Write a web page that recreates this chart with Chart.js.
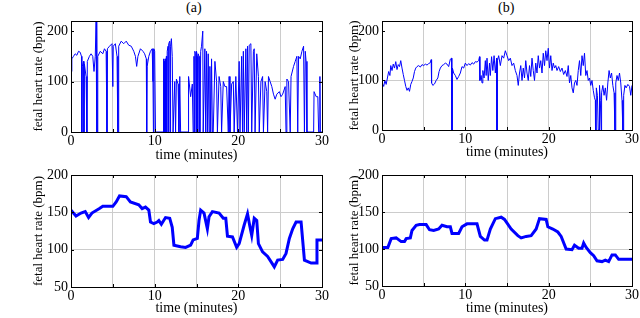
<!DOCTYPE html>
<html>
<head>
<meta charset="utf-8">
<script src="https://cdn.jsdelivr.net/npm/chart.js@4.4.0/dist/chart.umd.min.js"></script>
<style>
  body { margin: 0; background: #fff; }
  #wrap { position: relative; width: 640px; height: 318px; overflow: hidden; }
  canvas { position: absolute; }
  .lbl { position: absolute; font: 14px "Liberation Serif", "Times New Roman", serif; color: #000; }
</style>
</head>
<body>
<div id="wrap">
  <div class="lbl" style="left:186px; top:0px;">(a)</div>
  <div class="lbl" style="left:498px; top:0px;">(b)</div>
  <canvas id="ca" width="299" height="164" style="left:31px; top:0px;"></canvas>
  <canvas id="cb" width="293" height="161" style="left:347px; top:0px;"></canvas>
  <canvas id="cc" width="299" height="157" style="left:31px; top:160px;"></canvas>
  <canvas id="cd" width="293" height="157" style="left:347px; top:160px;"></canvas>
</div>
<script>
// raw fetal heart rate, recording (a)
const timeA = [0, 0.1, 0.3, 0.5, 0.7, 0.9, 1.1, 1.25, 1.3, 1.35, 1.5, 1.55, 1.6, 1.8, 1.9, 1.95, 2.2, 2.4, 2.6, 2.75, 2.9, 3.0, 3.05, 3.1, 3.15, 3.2, 3.5, 3.8, 4.0, 4.2, 4.3, 4.35, 4.6, 4.9, 5.0, 5.05, 5.3, 5.5, 5.6, 5.65, 5.7, 6.0, 6.3, 6.6, 6.9, 7.2, 7.5, 7.7, 7.85, 8.0, 8.3, 8.6, 8.8, 9.0, 9.05, 9.1, 9.3, 9.5, 9.7, 9.8, 9.85, 9.9, 10.0, 10.1, 11.0, 11.05, 11.1, 11.15, 11.2, 11.25, 11.3, 11.4, 11.45, 11.5, 11.6, 11.65, 11.7, 11.8, 11.85, 11.9, 12.0, 12.1, 12.2, 12.4, 12.5, 12.6, 12.8, 12.9, 13.0, 13.1, 14.0, 14.05, 14.3, 14.5, 14.6, 14.7, 14.75, 14.8, 14.9, 14.95, 15.0, 15.1, 15.15, 15.2, 15.3, 15.4, 15.5, 15.6, 15.75, 15.8, 16.0, 16.1, 16.2, 16.3, 16.4, 16.5, 16.6, 16.7, 16.8, 16.9, 17.0, 17.2, 17.4, 17.5, 17.7, 17.9, 18.0, 18.2, 18.4, 18.6, 18.8, 18.9, 19.0, 19.2, 19.4, 19.5, 19.7, 19.9, 20.1, 20.2, 20.4, 20.5, 20.6, 20.7, 20.9, 21.0, 21.1, 21.2, 21.3, 21.5, 21.6, 21.8, 21.9, 22.0, 22.2, 22.4, 22.5, 22.7, 22.9, 23.0, 23.2, 23.4, 23.5, 23.6, 23.8, 24.0, 24.2, 24.4, 24.6, 24.9, 25.1, 25.3, 25.6, 25.7, 25.8, 26.0, 26.2, 26.3, 26.6, 26.8, 27.0, 27.1, 27.2, 27.4, 27.6, 27.8, 27.9, 28.0, 28.1, 28.2, 29.0, 29.05, 29.3, 29.5, 29.6, 29.7, 29.75, 29.8, 30];
const rateA = [120, 145, 150, 155, 152, 160, 158, 150, 0, 130, 140, 0, 135, 110, 0, 140, 150, 155, 150, 120, 150, 220, 0, 220, 0, 150, 160, 155, 165, 160, 0, 165, 170, 175, 90, 170, 175, 150, 0, 0, 170, 180, 175, 180, 172, 170, 160, 150, 130, 150, 165, 160, 155, 145, 0, 130, 150, 160, 165, 100, 0, 165, 160, 0, 0, 145, 0, 140, 0, 145, 0, 150, 0, 160, 170, 0, 175, 180, 0, 170, 185, 150, 0, 100, 0, 105, 95, 0, 110, 0, 0, 110, 70, 95, 0, 150, 0, 160, 155, 0, 160, 150, 0, 155, 150, 0, 160, 170, 200, 0, 165, 0, 160, 0, 155, 0, 130, 0, 145, 0, 0, 140, 100, 0, 110, 90, 0, 100, 90, 90, 0, 110, 0, 95, 100, 0, 110, 0, 140, 0, 150, 0, 160, 0, 165, 0, 170, 0, 172, 175, 0, 160, 165, 0, 155, 110, 0, 100, 110, 0, 100, 80, 0, 110, 100, 90, 75, 65, 75, 80, 70, 75, 90, 0, 105, 100, 0, 110, 130, 140, 150, 0, 150, 145, 160, 170, 0, 160, 140, 0, 0, 80, 70, 70, 0, 0, 110, 0, 0];

// raw fetal heart rate, recording (b)
const timeB = [0, 0.2, 0.35, 0.5, 0.65, 0.8, 0.95, 1.05, 1.2, 1.35, 1.5, 1.65, 1.8, 1.95, 2.1, 2.25, 2.4, 2.55, 2.7, 2.85, 3.0, 3.15, 3.3, 3.45, 3.6, 3.75, 3.9, 4.05, 4.2, 4.4, 4.6, 4.8, 5.0, 5.2, 5.4, 5.6, 5.8, 5.9, 5.95, 6.1, 6.3, 6.5, 6.7, 6.85, 7.0, 7.2, 7.4, 7.6, 7.8, 8.0, 8.2, 8.35, 8.38, 8.42, 8.45, 8.6, 8.8, 9.0, 9.2, 9.4, 9.6, 9.8, 10.0, 10.2, 10.4, 10.6, 10.8, 11.0, 11.2, 11.4, 11.6, 11.7, 11.75, 11.9, 12.0, 12.1, 12.25, 12.4, 12.5, 12.6, 12.75, 12.9, 13.0, 13.15, 13.3, 13.45, 13.6, 13.75, 13.78, 13.82, 13.85, 14.0, 14.2, 14.4, 14.6, 14.8, 15.0, 15.2, 15.4, 15.6, 15.8, 16.0, 16.2, 16.35, 16.5, 16.65, 16.8, 16.95, 17.1, 17.25, 17.4, 17.55, 17.7, 17.85, 18.0, 18.15, 18.3, 18.45, 18.6, 18.75, 18.9, 19.05, 19.2, 19.35, 19.5, 19.65, 19.8, 19.95, 20.1, 20.25, 20.4, 20.55, 20.7, 20.85, 21.0, 21.2, 21.4, 21.6, 21.8, 22.0, 22.2, 22.35, 22.5, 22.65, 22.8, 22.95, 23.1, 23.25, 23.4, 23.55, 23.7, 23.85, 24.0, 24.15, 24.3, 24.45, 24.6, 24.75, 24.9, 25.05, 25.2, 25.35, 25.5, 25.6, 25.62, 25.7, 25.72, 25.85, 25.95, 26.05, 26.1, 26.2, 26.3, 26.35, 26.5, 26.65, 26.8, 26.95, 27.1, 27.25, 27.4, 27.55, 27.7, 27.85, 27.95, 28.0, 28.05, 28.2, 28.35, 28.5, 28.65, 28.8, 28.9, 28.95, 29.0, 29.15, 29.3, 29.5, 29.7, 29.85, 30];
const rateB = [95, 88, 100, 92, 105, 118, 110, 130, 120, 133, 125, 138, 122, 132, 128, 140, 125, 112, 100, 88, 80, 85, 78, 92, 98, 105, 118, 125, 128, 130, 127, 132, 130, 133, 131, 134, 136, 142, 95, 90, 93, 100, 105, 118, 125, 130, 132, 135, 133, 128, 143, 145, 0, 0, 125, 115, 110, 102, 108, 115, 128, 125, 135, 130, 134, 131, 136, 133, 138, 137, 140, 148, 100, 110, 95, 120, 105, 140, 110, 145, 100, 135, 110, 148, 120, 150, 115, 145, 0, 0, 140, 150, 130, 150, 145, 160, 150, 140, 145, 130, 135, 120, 110, 90, 115, 130, 100, 125, 105, 140, 115, 100, 130, 108, 145, 120, 100, 135, 115, 150, 125, 140, 115, 155, 130, 160, 140, 165, 125, 150, 120, 135, 125, 130, 120, 128, 118, 125, 112, 120, 108, 130, 95, 110, 85, 75, 95, 100, 90, 120, 140, 110, 150, 130, 155, 110, 120, 100, 105, 90, 100, 80, 65, 60, 0, 0, 85, 70, 0, 0, 90, 60, 0, 75, 90, 70, 85, 60, 95, 120, 105, 115, 90, 75, 0, 0, 95, 110, 100, 115, 95, 60, 0, 0, 70, 90, 85, 92, 88, 70, 90];

// processed fetal heart rate, recording (a)
const timeC = [0, 0.6, 1.2, 1.7, 2.1, 2.5, 3.4, 3.8, 5.0, 5.4, 5.8, 6.6, 7.1, 8.1, 8.5, 8.9, 9.3, 9.5, 9.9, 10.3, 10.5, 10.8, 11.3, 11.8, 12.1, 12.3, 13.1, 13.7, 14.3, 14.6, 15.1, 15.3, 15.5, 15.9, 16.3, 16.5, 16.9, 17.7, 18.2, 18.5, 18.7, 19.3, 19.8, 20.1, 20.7, 21.1, 21.4, 21.6, 21.9, 22.2, 22.4, 22.9, 23.5, 23.9, 24.3, 24.7, 25.3, 25.7, 26.1, 26.5, 26.9, 27.5, 27.9, 28.7, 29.3, 29.4, 30];
const rateC = [153, 145, 149, 151, 143, 149, 155, 158, 158, 164, 172, 171, 164, 160, 155, 157, 153, 137, 135, 137, 139, 134, 143, 142, 130, 106, 104, 103, 106, 113, 115, 139, 153, 149, 128, 144, 151, 149, 142, 142, 118, 117, 103, 108, 133, 148, 130, 119, 142, 139, 108, 97, 91, 84, 77, 86, 87, 95, 115, 128, 137, 137, 86, 82, 82, 113, 113];

// processed fetal heart rate, recording (b)
const timeD = [0, 0.7, 1.1, 1.7, 2.3, 2.7, 2.9, 3.4, 3.6, 4.1, 4.5, 5.3, 5.7, 6.2, 6.8, 7.2, 7.8, 8.2, 8.4, 9.2, 9.6, 10.2, 11.4, 11.8, 12.3, 12.6, 13.0, 13.6, 14.3, 14.7, 15.5, 16.3, 16.7, 17.3, 17.9, 18.5, 18.9, 19.7, 19.9, 20.5, 21.1, 21.5, 22.1, 22.8, 23.1, 23.6, 24.0, 24.2, 24.5, 25.0, 25.4, 25.8, 26.4, 26.8, 27.2, 27.6, 28.0, 28.4, 29.4, 30];
const rateD = [102, 102, 114, 115, 110, 110, 114, 115, 125, 132, 133, 133, 126, 125, 127, 132, 130, 130, 121, 121, 130, 134, 134, 117, 112, 112, 127, 141, 143, 140, 127, 118, 115, 117, 118, 127, 141, 140, 130, 127, 123, 117, 100, 99, 105, 101, 101, 108, 102, 95, 91, 84, 83, 85, 83, 92, 92, 86, 86, 86];

const xTicksStep = 5;
const yTicksTop = { min: 0, max: 220, step: 100 };
const yTicksBottom = { min: 50, max: 200, step: 50 };

const FONT = '"Liberation Serif", "Times New Roman", serif';
Chart.defaults.font.family = FONT;
Chart.defaults.color = '#000';

// MATLAB-like box with inward tick marks
const boxTicks = {
  id: 'boxTicks',
  afterDraw(chart) {
    const { ctx, chartArea: a, scales } = chart;
    ctx.save();
    ctx.strokeStyle = '#000';
    ctx.lineWidth = 1;
    ctx.beginPath();
    scales.x.ticks.forEach(t => {
      const px = Math.round(scales.x.getPixelForValue(t.value)) + 0.5;
      ctx.moveTo(px, a.bottom); ctx.lineTo(px, a.bottom - 3);
      ctx.moveTo(px, a.top); ctx.lineTo(px, a.top + 3);
    });
    scales.y.ticks.forEach(t => {
      const py = Math.round(scales.y.getPixelForValue(t.value)) + 0.5;
      ctx.moveTo(a.left, py); ctx.lineTo(a.left + 3, py);
      ctx.moveTo(a.right, py); ctx.lineTo(a.right - 3, py);
    });
    ctx.stroke();
    ctx.strokeRect(Math.round(a.left) + 0.5, Math.round(a.top) + 0.5,
      Math.round(a.right - a.left), Math.round(a.bottom - a.top));
    ctx.restore();
  }
};

function makeChart(id, times, rates, yr, opts) {
  const pts = times.map((t, i) => ({ x: t, y: rates[i] }));
  return new Chart(id, {
    type: 'line',
    data: {
      datasets: [{
        data: pts,
        borderColor: '#0000ff',
        borderWidth: opts.lw,
        pointRadius: 0,
        tension: 0,
        fill: false
      }]
    },
    options: {
      responsive: false,
      animation: false,
      layout: { padding: { top: opts.top, right: opts.right, left: 0, bottom: 0 } },
      plugins: { legend: { display: false }, tooltip: { enabled: false } },
      scales: {
        x: {
          type: 'linear', min: 0, max: 30,
          afterFit: s => { s.height = opts.xh; },
          ticks: {
            stepSize: xTicksStep, autoSkip: false, maxRotation: 0, padding: 1,
            font: { size: 14 },
            callback: v => (v % 10 === 0 ? v : '')
          },
          grid: { drawTicks: false, color: '#cccccc', lineWidth: 1 },
          border: { display: false },
          title: { display: true, text: 'time (minutes)', font: { size: 14 }, padding: 0 }
        },
        y: {
          min: yr.min, max: yr.max,
          afterFit: s => { s.width = opts.yw; },
          ticks: { stepSize: yr.step, includeBounds: false, padding: 3, font: { size: 14 } },
          grid: {
            drawTicks: false, lineWidth: 1,
            color: c => (c.tick && (c.tick.value === 100 || c.tick.value === 150) ? '#cccccc' : 'rgba(0,0,0,0)')
          },
          border: { display: false },
          title: { display: true, text: 'fetal heart rate (bpm)', font: { size: 13 }, padding: 0 }
        }
      }
    },
    plugins: [boxTicks]
  });
}

makeChart('ca', timeA, rateA, yTicksTop, { lw: 1, top: 21, right: 7, xh: 32, yw: 40 });
makeChart('cb', timeB, rateB, yTicksTop, { lw: 1, top: 21, right: 5, xh: 31, yw: 35 });
makeChart('cc', timeC, rateC, yTicksBottom, { lw: 3, top: 15, right: 7, xh: 30, yw: 40 });
makeChart('cd', timeD, rateD, yTicksBottom, { lw: 3, top: 15, right: 5, xh: 31, yw: 35 });
</script>
</body>
</html>
